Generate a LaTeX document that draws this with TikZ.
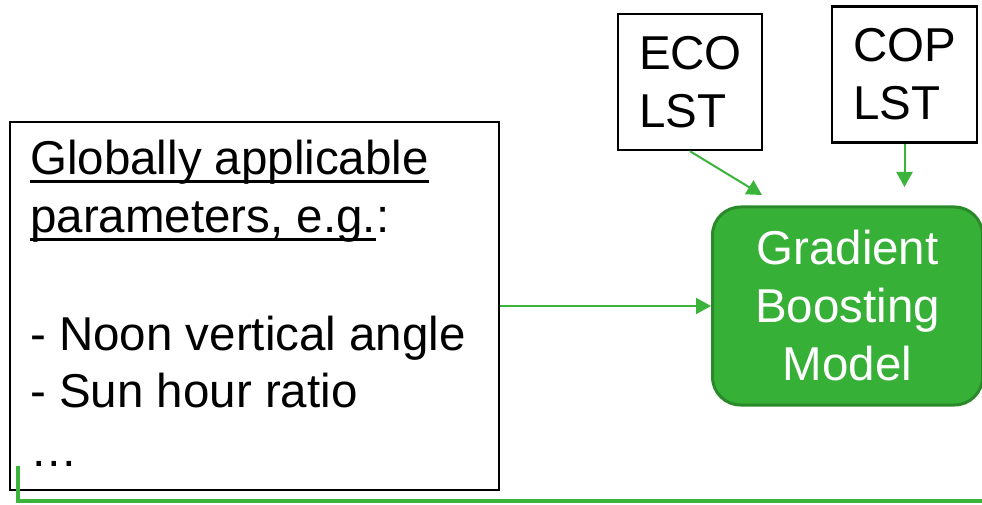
\documentclass[tikz,border=0pt]{standalone}
\usepackage{fontspec}
\setmainfont{Liberation Sans}
\usetikzlibrary{arrows.meta}

% underline at a fixed depth below the baseline
\newcommand{\ulbar}[1]{\setbox0\hbox{#1}\rlap{\rule[-8.5pt]{\wd0}{3pt}}\box0}

\definecolor{linkgreen}{RGB}{58,180,58}
\definecolor{modelfill}{RGB}{55,176,55}
\definecolor{modeledge}{RGB}{42,138,42}

\tikzset{
  bigfont/.style={font=\fontsize{47.5}{58}\selectfont},
  inputbox/.style={draw=black, line width=2.5pt, inner sep=0pt, bigfont,
    align=left, text width=102pt, minimum height=136pt},
  linetext/.style={inner sep=0pt, anchor=base west, bigfont},
  modelbox/.style={draw=modeledge, fill=modelfill, line width=3pt,
    rounded corners=28pt, text=white, bigfont, align=center,
    minimum width=270pt, minimum height=198pt, inner sep=0pt},
  feed/.style={draw=linkgreen, line width=2pt,
    -{Triangle[length=15pt,width=16pt]}},
  trail/.style={draw=linkgreen, line width=4pt},
}

\begin{document}
\begin{tikzpicture}[x=1pt, y=-1pt]
  \useasboundingbox (0,0) rectangle (982,505);

  % parameter panel
  \node[draw=black, line width=2.5pt, minimum width=489pt, minimum height=368pt,
        inner sep=0pt] (params) at (254.5,306) {};
  \node[linetext] (p1) at (30,175) {\ulbar{Globally applicable}};
  \node[linetext] (p2) at (30,232) {\ulbar{parameters, e.g.}:};
  \node[linetext] (p3) at (30,350) {- Noon vertical angle};
  \node[linetext] (p4) at (30,407) {- Sun hour ratio};
  \node[linetext] (p5) at (30,466) {…};

  % LST inputs
  \node[inputbox, minimum width=144pt] (eco) at (690,82) {ECO\\LST};
  \node[inputbox, minimum width=145pt] (cop) at (904.5,74.5) {COP\\LST};

  % model
  \node[modelbox] (gbm) at (847.5,306) {Gradient\\Boosting\\Model};

  % arrow end points above the model
  \coordinate (ecotip) at (762,195);
  \coordinate (coptip) at (904.5,187);

  \draw[feed] (eco.south) -- (ecotip);
  \draw[feed] (cop.south) -- (coptip);
  \draw[feed] (params.east) -- (gbm.west);

  % feedback trail along the bottom
  \coordinate (trailstart) at (18,466);
  \coordinate (trailcorner) at (18,501);
  \coordinate (trailend) at (984,501);
  \draw[trail] (trailstart) -- (trailcorner) -- (trailend);
\end{tikzpicture}
\end{document}
